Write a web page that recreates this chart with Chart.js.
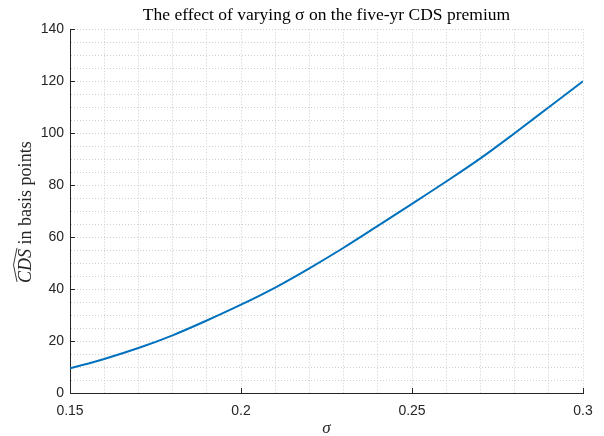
<!DOCTYPE html>
<html>
<head>
<meta charset="utf-8">
<script src="https://cdn.jsdelivr.net/npm/chart.js@4/dist/chart.umd.min.js"></script>
<style>
html, body { margin: 0; padding: 0; background: #fff; }
#wrap { width: 604px; height: 436px; }
</style>
</head>
<body>
<div id="wrap"><canvas id="cdsChart"></canvas></div>
<script>
// sigma values and the five-year CDS premium (basis points)
const sigma = [0.15, 0.16, 0.17, 0.18, 0.19, 0.20, 0.21, 0.22, 0.23, 0.24, 0.25, 0.26, 0.27, 0.28, 0.29, 0.30];
const cdsPremium = [9.5, 13.1, 17.3, 22.2, 27.9, 34.0, 40.6, 48.0, 55.9, 64.3, 72.8, 81.4, 90.3, 100.0, 110.0, 120.0];

const xTickLabels = ['0.15', '0.2', '0.25', '0.3'];
const yTickValues = [0, 20, 40, 60, 80, 100, 120, 140];

const axisColor = '#262626';
const gridColor = '#cfcfcf';

// MATLAB style tick marks pointing into the plot
const innerTicks = {
    id: 'innerTicks',
    afterDraw(chart) {
        const ctx = chart.ctx;
        const xs = chart.scales.x;
        const ys = chart.scales.y;
        const a = chart.chartArea;
        ctx.save();
        ctx.strokeStyle = axisColor;
        ctx.lineWidth = 1;
        ctx.beginPath();
        xTickLabels.forEach(t => {
            const px = Math.round(xs.getPixelForValue(parseFloat(t))) + 0.5;
            ctx.moveTo(px, a.bottom);
            ctx.lineTo(px, a.bottom - 5);
        });
        yTickValues.forEach(v => {
            const py = Math.round(ys.getPixelForValue(v)) + 0.5;
            ctx.moveTo(a.left, py);
            ctx.lineTo(a.left + 5, py);
        });
        ctx.stroke();
        ctx.restore();
    }
};

// y axis label with italic CDS and a wide hat over it
const yLabel = {
    id: 'yLabel',
    afterDraw(chart) {
        const ctx = chart.ctx;
        const a = chart.chartArea;
        const cy = (a.top + a.bottom) / 2 + 1;
        const italic = 'italic 18px "Liberation Serif"';
        const normal = '18px "Liberation Serif"';
        ctx.save();
        ctx.translate(31, cy);
        ctx.rotate(-Math.PI / 2);
        ctx.fillStyle = axisColor;
        ctx.textBaseline = 'alphabetic';
        ctx.font = italic;
        const w1 = ctx.measureText('CDS').width;
        ctx.font = normal;
        const w2 = ctx.measureText(' in basis points').width;
        let x = -(w1 + w2) / 2;
        ctx.font = italic;
        ctx.textAlign = 'left';
        ctx.fillText('CDS', x, 0);
        // widehat
        ctx.strokeStyle = axisColor;
        ctx.lineWidth = 0.9;
        ctx.beginPath();
        ctx.moveTo(x + 1, -14);
        ctx.lineTo(x + w1 / 2 + 1, -17.5);
        ctx.lineTo(x + w1 + 1, -14);
        ctx.stroke();
        ctx.font = normal;
        ctx.fillText(' in basis points', x + w1, 0);
        ctx.restore();
    }
};

const ctx = document.getElementById('cdsChart').getContext('2d');

new Chart(ctx, {
    type: 'line',
    data: {
        datasets: [{
            data: sigma.map((s, i) => ({ x: s, y: cdsPremium[i] })),
            borderColor: '#0072BD',
            borderWidth: 2,
            pointRadius: 0,
            fill: false,
            cubicInterpolationMode: 'monotone'
        }]
    },
    options: {
        responsive: true,
        maintainAspectRatio: false,
        animation: false,
        layout: { padding: { left: 0, right: 21, top: 0, bottom: 0 } },
        plugins: {
            legend: { display: false },
            tooltip: { enabled: false },
            title: {
                display: true,
                fullSize: false,
                text: 'The effect of varying σ on the five-yr CDS premium',
                color: '#000',
                font: { family: '"Liberation Serif"', size: 17.5, weight: 'normal', lineHeight: 1.1 },
                padding: { top: 6, bottom: 4 }
            }
        },
        scales: {
            x: {
                type: 'linear',
                min: 0.15,
                max: 0.3,
                afterFit: scale => { scale.height = 43; },
                grid: { color: gridColor, drawTicks: false, lineWidth: 1 },
                border: { display: true, color: axisColor, width: 1, dash: [1, 2] },
                ticks: {
                    stepSize: 0.01,
                    autoSkip: false,
                    maxRotation: 0,
                    padding: 10,
                    color: axisColor,
                    font: { family: '"Liberation Sans"', size: 14 },
                    callback: v => {
                        const s = String(+v.toFixed(2));
                        return xTickLabels.includes(s) ? s : '';
                    }
                },
                title: {
                    display: true,
                    text: 'σ',
                    color: axisColor,
                    font: { family: '"Liberation Serif"', size: 17, style: 'italic' },
                    padding: { top: 0, bottom: -3 }
                }
            },
            y: {
                min: 0,
                max: 140,
                afterFit: scale => { scale.width = 70; },
                grid: { color: gridColor, drawTicks: false, lineWidth: 1 },
                border: { display: true, color: axisColor, width: 1, dash: [1, 2] },
                ticks: {
                    stepSize: 5,
                    autoSkip: false,
                    padding: 6,
                    color: axisColor,
                    font: { family: '"Liberation Sans"', size: 14 },
                    callback: v => (yTickValues.includes(v) ? v : '')
                }
            }
        }
    },
    plugins: [innerTicks, yLabel]
});
</script>
</body>
</html>
